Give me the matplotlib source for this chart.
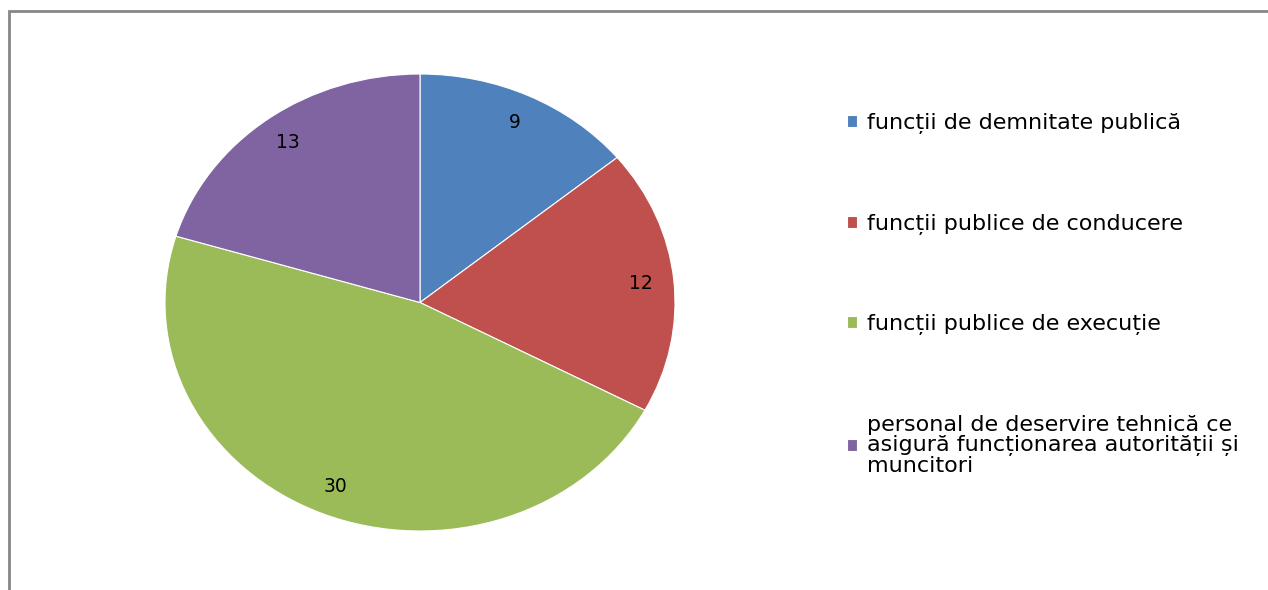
import matplotlib.pyplot as plt
from matplotlib.patches import Rectangle

labels = ['funcții de demnitate publică',
          'funcții publice de conducere',
          'funcții publice de execuție',
          'personal de deservire tehnică ce\nasigură funcționarea autorității și\nmuncitori']
values = [9, 12, 30, 13]
colors = ['#4F81BD', '#C0504D', '#9BBB59', '#8064A2']

plt.rcParams['font.family'] = ['DejaVu Sans']

fig = plt.figure(figsize=(12.68, 5.9), dpi=100)
# pie box in pixels: x 165..675, y 74..531 (picture is stretched sideways)
ax = fig.add_axes([165/1268, 1 - 531/590, 510/1268, 457/590])

wedges, texts, autotexts = ax.pie(values, colors=colors, startangle=90, counterclock=False,
                                  autopct=lambda p: '%d' % round(p * sum(values) / 100),
                                  pctdistance=0.87, radius=1,
                                  wedgeprops=dict(edgecolor='white', linewidth=0.8),
                                  textprops=dict(fontsize=13.5, color='black'))
ax.set_aspect('auto')
ax.set_xlim(-1, 1)
ax.set_ylim(-1, 1)

leg = ax.legend(wedges, labels, loc='upper left',
                bbox_to_anchor=(847/1268, 1 - 113/590), bbox_transform=fig.transFigure,
                frameon=False, fontsize=16, handlelength=0.45, handleheight=0.45,
                handletextpad=0.45, labelspacing=3.58, borderpad=0, borderaxespad=0)
for t in leg.get_texts():
    t.set_linespacing(1.0)

# grey border of the chart area (runs off right and bottom edges)
fig.patches.append(Rectangle((8.5/1268, -0.2), 1.2, 1.2 - 10.5/590, transform=fig.transFigure,
                             fill=False, edgecolor='#868686', linewidth=2.0))

fig.savefig('out.png', dpi=100)
